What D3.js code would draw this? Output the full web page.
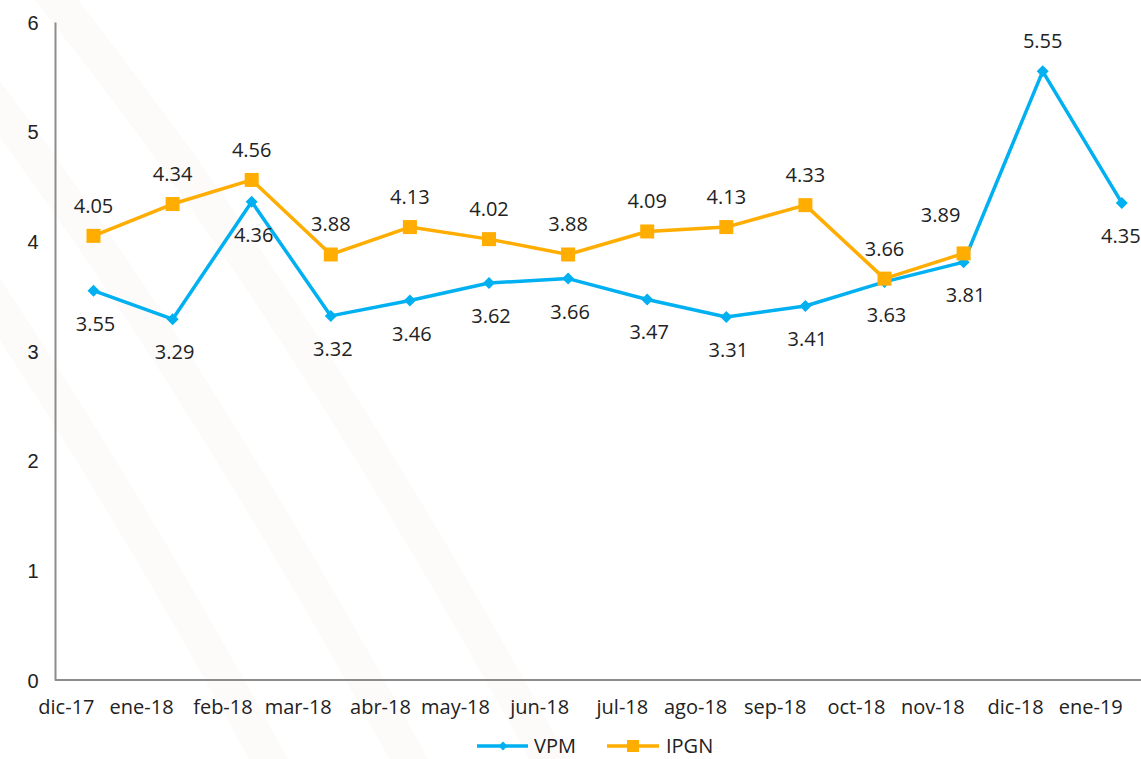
<!DOCTYPE html>
<html>
<head>
<meta charset="utf-8">
<script src="https://cdn.jsdelivr.net/npm/d3@7"></script>
<style>
  body { margin: 0; background: #fff; }
  svg { display: block; font-family: "Open Sans", "Noto Sans", sans-serif; }
</style>
</head>
<body>
<div id="chart"></div>
<script>
// chart data
var months = ["dic-17", "ene-18", "feb-18", "mar-18", "abr-18", "may-18", "jun-18",
  "jul-18", "ago-18", "sep-18", "oct-18", "nov-18", "dic-18", "ene-19"];
var vpm = [3.55, 3.29, 4.36, 3.32, 3.46, 3.62, 3.66, 3.47, 3.31, 3.41, 3.63, 3.81, 5.55, 4.35];
var ipgn = [4.05, 4.34, 4.56, 3.88, 4.13, 4.02, 3.88, 4.09, 4.13, 4.33, 3.66, 3.89];
var yTicks = [0, 1, 2, 3, 4, 5, 6];

var svgWidth = 1141;
var svgHeight = 759;
var margin = { top: 22, left: 55, bottom: 79 };
var chartHeight = svgHeight - margin.top - margin.bottom;
var fontSize = 20;

var blue = "#00B0F0";
var orange = "#FFAD00";

var svg = d3.select("#chart")
  .append("svg")
  .attr("width", svgWidth)
  .attr("height", svgHeight);

// very faint watermark stripes in the background
var bg = svg.append("g");
[-240, -100, 40].forEach(function (x0) {
  bg.append("path")
    .attr("d", `M${x0},-20 Q${x0 + 260},300 ${x0 + 520},780`)
    .attr("fill", "none")
    .attr("stroke", "#fcfbf9")
    .attr("stroke-width", 34);
});

var chartGroup = svg.append("g")
  .attr("transform", `translate(${margin.left}, ${margin.top})`);

// 79px per month, plot runs past the right edge like the original
var xScale = d3.scalePoint()
  .domain(months)
  .range([38.5, 38.5 + 13 * 79.1]);

var yScale = d3.scaleLinear()
  .domain([0, 6])
  .range([chartHeight, 0]);

// y axis
var leftAxis = d3.axisLeft(yScale).tickValues(yTicks).tickFormat(d3.format("d"))
  .tickSize(0).tickPadding(22);
var yAxis = chartGroup.append("g").call(leftAxis);
yAxis.select(".domain").attr("stroke", "#8c8c8c").attr("stroke-width", 2);
yAxis.selectAll("text").attr("font-size", fontSize).attr("fill", "#222")
  .attr("text-anchor", "middle").attr("dx", 0).attr("dy", "0.35em");

// x axis line
chartGroup.append("line")
  .attr("x1", 0).attr("x2", svgWidth)
  .attr("y1", chartHeight).attr("y2", chartHeight)
  .attr("stroke", "#8c8c8c").attr("stroke-width", 2);

// month labels (end-aligned at each point)
chartGroup.selectAll(".month")
  .data(months)
  .enter()
  .append("text")
  .attr("class", "month")
  .attr("x", d => xScale(d) + 1)
  .attr("y", chartHeight + 34)
  .attr("text-anchor", "end")
  .attr("font-size", fontSize)
  .attr("fill", "#222")
  .text(d => d);

var line = d3.line()
  .x((d, i) => xScale(months[i]))
  .y(d => yScale(d));

// VPM series
chartGroup.append("path")
  .datum(vpm)
  .attr("d", line)
  .attr("fill", "none")
  .attr("stroke", blue)
  .attr("stroke-width", 3.5)
  .attr("stroke-linejoin", "round");

chartGroup.selectAll(".vpm")
  .data(vpm)
  .enter()
  .append("path")
  .attr("class", "vpm")
  .attr("d", d3.symbol().type(d3.symbolSquare).size(72))
  .attr("transform", (d, i) => `translate(${xScale(months[i])},${yScale(d)}) rotate(45)`)
  .attr("fill", blue);

// IPGN series
chartGroup.append("path")
  .datum(ipgn)
  .attr("d", line)
  .attr("fill", "none")
  .attr("stroke", orange)
  .attr("stroke-width", 3.5)
  .attr("stroke-linejoin", "round");

chartGroup.selectAll(".ipgn")
  .data(ipgn)
  .enter()
  .append("rect")
  .attr("class", "ipgn")
  .attr("x", (d, i) => xScale(months[i]) - 7)
  .attr("y", d => yScale(d) - 7)
  .attr("width", 14)
  .attr("height", 14)
  .attr("fill", orange);

// data labels
var vpmOffset = function (i) {
  if (i === 12) return { dx: 0, dy: -23 };
  if (i === 13) return { dx: -1, dy: 40 };
  return { dx: 2, dy: 40 };
};
var ipgnOffset = function (i) {
  if (i === 11) return { dx: -23, dy: -31 };
  return { dx: 0, dy: -23 };
};

chartGroup.selectAll(".vpmLabel")
  .data(vpm)
  .enter()
  .append("text")
  .attr("class", "vpmLabel")
  .attr("x", (d, i) => xScale(months[i]) + vpmOffset(i).dx)
  .attr("y", (d, i) => yScale(d) + vpmOffset(i).dy)
  .attr("text-anchor", "middle")
  .attr("font-size", fontSize)
  .attr("fill", "#222")
  .text(d => d.toFixed(2));

chartGroup.selectAll(".ipgnLabel")
  .data(ipgn)
  .enter()
  .append("text")
  .attr("class", "ipgnLabel")
  .attr("x", (d, i) => xScale(months[i]) + ipgnOffset(i).dx)
  .attr("y", (d, i) => yScale(d) + ipgnOffset(i).dy)
  .attr("text-anchor", "middle")
  .attr("font-size", fontSize)
  .attr("fill", "#222")
  .text(d => d.toFixed(2));

// legend
var legend = svg.append("g").attr("transform", "translate(0, 746)");
legend.append("line").attr("x1", 477).attr("x2", 528).attr("y1", 0).attr("y2", 0)
  .attr("stroke", blue).attr("stroke-width", 3.5);
legend.append("path")
  .attr("d", d3.symbol().type(d3.symbolSquare).size(40))
  .attr("transform", "translate(503,0) rotate(45)")
  .attr("fill", blue);
legend.append("text").attr("x", 534).attr("y", 7).attr("font-size", fontSize).attr("fill", "#222").text("VPM");

legend.append("line").attr("x1", 607).attr("x2", 659).attr("y1", 0).attr("y2", 0)
  .attr("stroke", orange).attr("stroke-width", 3.5);
legend.append("rect").attr("x", 627).attr("y", -6).attr("width", 12).attr("height", 12)
  .attr("fill", orange);
legend.append("text").attr("x", 666).attr("y", 7).attr("font-size", fontSize).attr("fill", "#222").text("IPGN");
</script>
</body>
</html>
